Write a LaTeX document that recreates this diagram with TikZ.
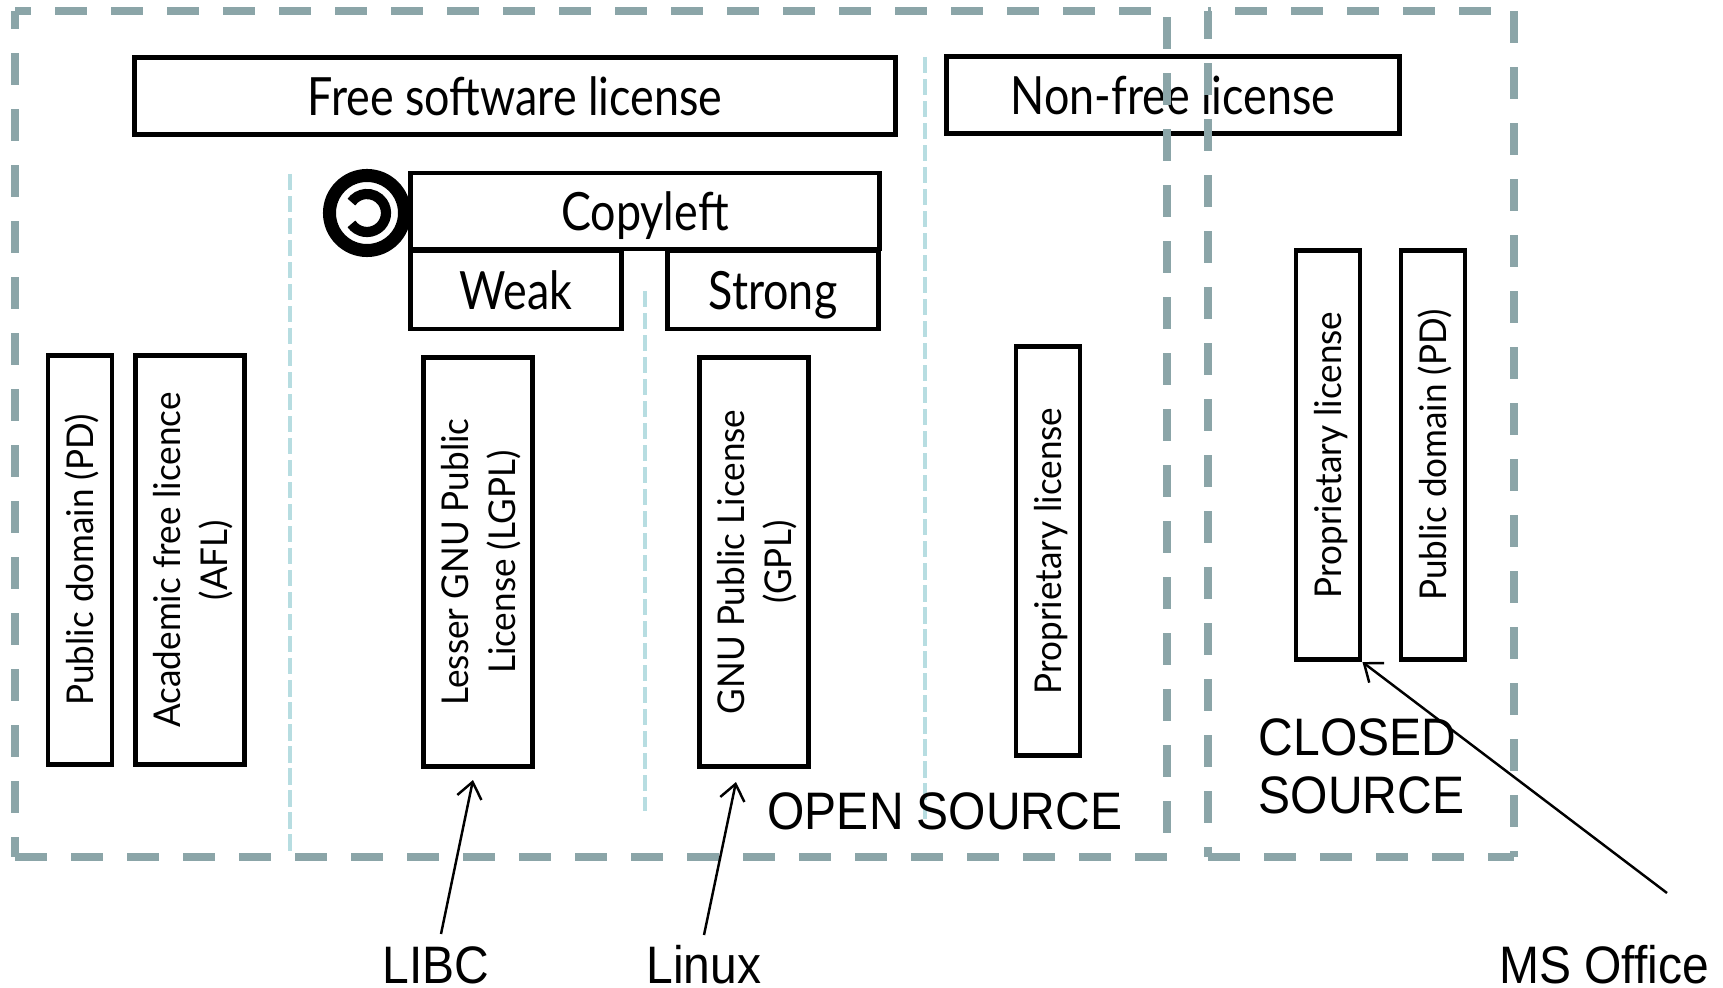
\documentclass[tikz,border=0pt]{standalone}
\usepackage{fontspec}
\usetikzlibrary{arrows.meta}
\newfontfamily\flatfont[FakeStretch=.85]{Lato}
\newfontfamily\sidefont[FakeStretch=.95]{Lato}
\newfontfamily\notefont[FakeStretch=.91]{Liberation Sans}
\definecolor{regiongrey}{HTML}{8BA5A8}
\definecolor{splitblue}{HTML}{B7DDE1}
\tikzset{
  x=0.01cm, y=-0.01cm,
  flatbox/.style={draw, line width=1.4pt, inner sep=0pt, text height=11pt, text depth=0pt, font=\flatfont\fontsize{15}{18}\selectfont},
  sidebox/.style={draw, line width=1.4pt, inner sep=0pt, rotate=90, align=center, minimum width=4.09cm, font=\sidefont\fontsize{10.5}{13.3}\selectfont},
  oneline/.style={sidebox, minimum height=0.64cm, text height=8.5pt, text depth=0.7pt},
  twolines/.style={sidebox, minimum height=1.09cm, text height=23.6pt, text depth=2.3pt},
  note/.style={inner sep=0pt, align=left, font=\notefont\fontsize{15}{16.5}\selectfont},
  pointer/.style={line width=0.7pt, -{Straight Barb[length=4.5pt,width=7pt]}},
  region/.style={regiongrey, line width=2.3pt, dash pattern=on 9.1pt off 6.83pt},
  split/.style={splitblue, line width=1.4pt, dash pattern=on 4.6pt off 1.66pt},
}
\begin{document}
\begin{tikzpicture}
  \useasboundingbox (0, 0) rectangle (1723, 988);
  % splits between the families
  \coordinate (splita) at (290, 174);
  \coordinate (splitb) at (290, 852);
  \coordinate (splitc) at (645, 291);
  \coordinate (splitd) at (645, 811);
  \coordinate (splite) at (925, 57);
  \coordinate (splitf) at (925, 819);
  \draw [split] (splita) -- (splitb);
  \draw [split] (splitc) -- (splitd);
  \draw [split] (splite) -- (splitf);
  % header boxes
  \node [flatbox, minimum width=7.60cm, minimum height=0.77cm] (free) at (515, 96) {Free software license};
  \node [flatbox, minimum width=4.53cm, minimum height=0.77cm] (nonfree) at (1173, 95) {Non-free license};
  \node [flatbox, minimum width=4.68cm, minimum height=0.76cm] (copyleft) at (645, 211) {Copyleft};
  \node [flatbox, minimum width=2.11cm, minimum height=0.78cm] (weak) at (516, 290) {Weak};
  \node [flatbox, minimum width=2.11cm, minimum height=0.78cm] (strong) at (773, 290) {Strong};
  % copyleft sign
  \node [draw, circle, line width=3.7pt, minimum size=0.75cm, inner sep=0pt] (sign) at (367, 213) {};
  \draw [line width=2.9pt] (sign.center) ++(145:19) arc (145:-145:19);
  % license columns
  \node [oneline] (pd) at (80, 560) {Public domain (PD)};
  \node [twolines] (afl) at (190, 560) {Academic free licence\\(AFL)};
  \node [twolines] (lgpl) at (478, 562) {Lesser GNU Public\\License (LGPL)};
  \node [twolines] (gpl) at (754, 562) {GNU Public License\\(GPL)};
  \node [oneline] (propa) at (1048, 551) {Proprietary license};
  \node [oneline] (propb) at (1328, 455) {Proprietary license};
  \node [oneline] (pdb) at (1433, 455) {Public domain (PD)};
  % open and closed source regions
  \coordinate (opena) at (15, 11);
  \coordinate (openb) at (1167, 11);
  \coordinate (openc) at (1167, 857);
  \coordinate (opend) at (15, 857);
  \coordinate (closeda) at (1208, 11);
  \coordinate (closedb) at (1514, 11);
  \coordinate (closedc) at (1514, 857);
  \coordinate (closedd) at (1208, 857);
  \draw [region, dash phase=4.55pt] (opena) -- (openb);
  \draw [region, dash phase=14.2pt] (openb) -- (openc);
  \draw [region] (opend) -- (openc);
  \draw [region, dash phase=3.98pt] (opena) -- (opend);
  \draw [region, dash phase=8.25pt] (closeda) -- (closedb);
  \draw [region] (closedb) -- (closedc);
  \draw [region] (closedd) -- (closedc);
  \draw [region, dash phase=1.14pt] (closeda) -- (closedd);
  % notes
  \node [note] (opensrc) at (945, 811) {OPEN SOURCE};
  \node [note, anchor=west] (closedsrc) at (1258, 766) {CLOSED\\SOURCE};
  \node [note] (libc) at (436, 965) {LIBC};
  \node [note] (linux) at (704, 965) {Linux};
  \node [note] (office) at (1604, 965) {MS Office};
  \coordinate (libctail) at (441, 934);
  \coordinate (libctip) at (473, 780);
  \coordinate (linuxtail) at (704, 935);
  \coordinate (linuxtip) at (736, 782);
  \coordinate (officetail) at (1667, 893);
  \draw [pointer] (libctail) -- (libctip);
  \draw [pointer] (linuxtail) -- (linuxtip);
  \draw [pointer] (officetail) -- (propb.south west);
\end{tikzpicture}
\end{document}
